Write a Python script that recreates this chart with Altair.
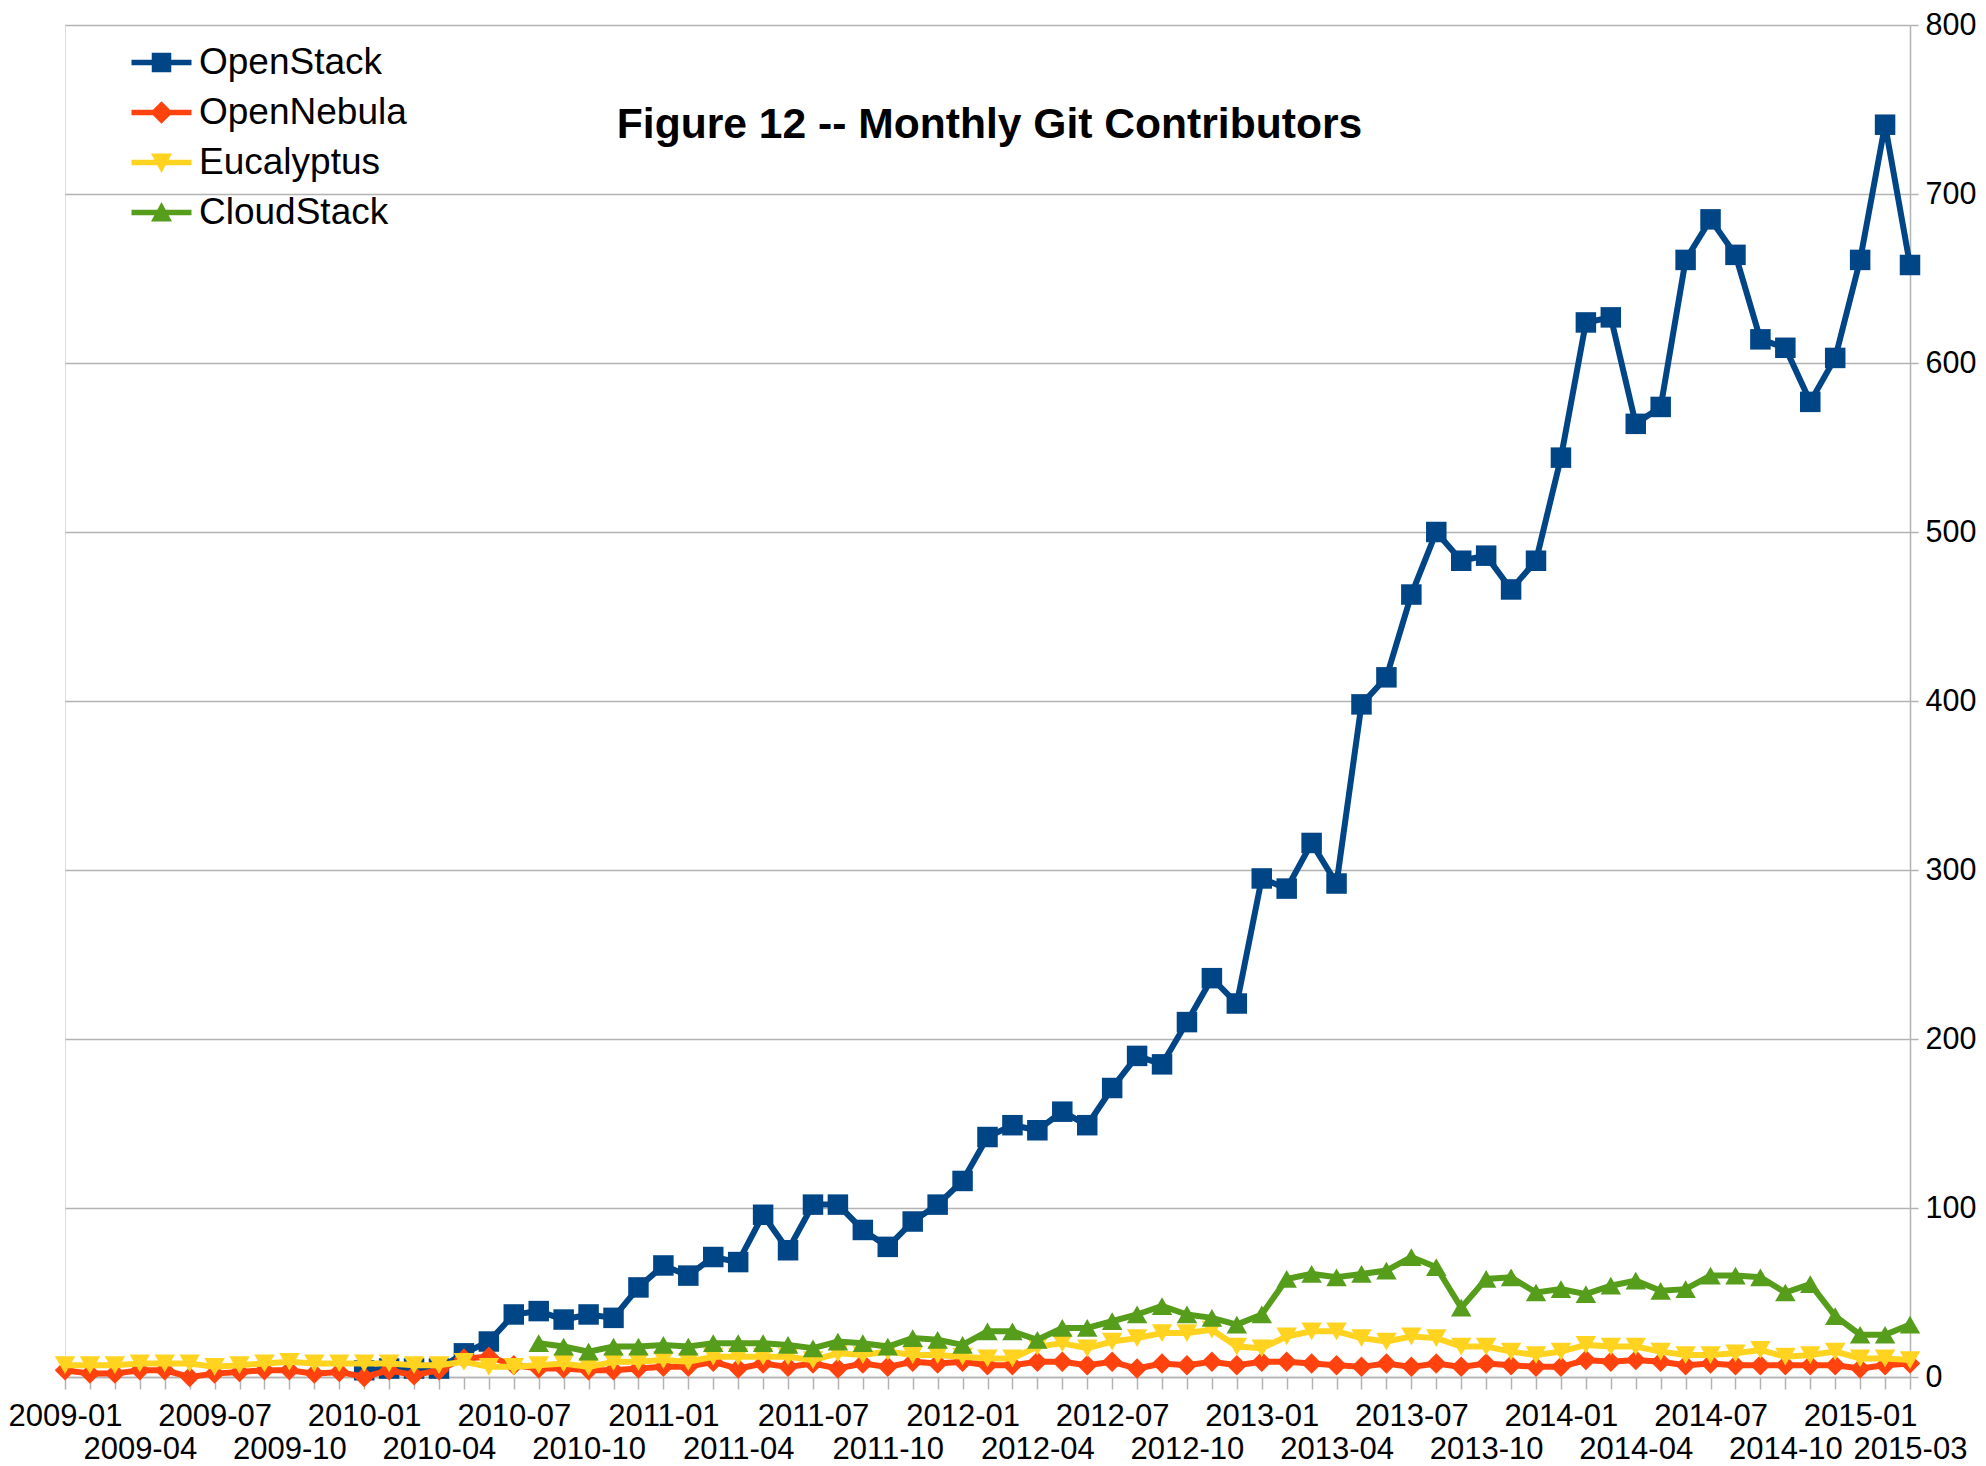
import json
import altair as alt
import pandas as pd

# ---- categories -------------------------------------------------------
months = [f"{y}-{m:02d}" for y in range(2009, 2016) for m in range(1, 13)][:75]

row1_labels = ["2009-01", "2009-07", "2010-01", "2010-07", "2011-01", "2011-07",
               "2012-01", "2012-07", "2013-01", "2013-07", "2014-01", "2014-07", "2015-01"]
row2_labels = ["2009-04", "2009-10", "2010-04", "2010-10", "2011-04", "2011-10",
               "2012-04", "2012-10", "2013-04", "2013-10", "2014-04", "2014-10", "2015-03"]

series_names = ["OpenStack", "OpenNebula", "Eucalyptus", "CloudStack"]
series_colors = ["#004586", "#ff420e", "#ffd320", "#579d1c"]
series_shapes = ["square", "diamond", "triangle-down", "triangle-up"]

# ---- values -----------------------------------------------------------
openstack = [None] * 12 + [
    4, 5, 5, 5, 14, 21, 37, 39, 34, 37, 35, 53,
    66, 60, 71, 68, 96, 75, 102, 102, 87, 77, 92, 102,
    116, 142, 149, 146, 157, 149, 171, 190, 185, 210, 236, 221,
    295, 289, 316, 292, 398, 414, 463, 500, 483, 486, 466, 483,
    544, 624, 627, 564, 574, 661, 685, 664, 614, 609, 577, 603,
    661, 741, 658]

opennebula = [
    4, 2, 2, 4, 4, 0, 2, 3, 4, 4, 2, 3,
    0, 4, 1, 4, 11, 12, 7, 5, 5, 4, 4, 5,
    6, 6, 9, 5, 8, 6, 8, 5, 8, 6, 9, 8,
    9, 7, 7, 9, 9, 7, 9, 5, 8, 7, 9, 7,
    9, 9, 8, 7, 6, 8, 6, 8, 6, 8, 7, 6,
    6, 10, 9, 10, 9, 7, 8, 7, 7, 7, 7, 7,
    5, 7, 8]

eucalyptus = [
    7, 7, 7, 8, 8, 8, 6, 7, 8, 9, 8, 8,
    8, 8, 7, 7, 9, 6, 6, 7, 8, 6, 9, 9,
    10, 9, 12, 12, 12, 12, 10, 14, 13, 15, 13, 13,
    12, 11, 11, 18, 20, 17, 21, 23, 26, 26, 28, 18,
    17, 24, 27, 27, 23, 21, 24, 23, 18, 18, 15, 13,
    15, 19, 18, 18, 15, 13, 13, 14, 16, 12, 13, 15,
    11, 11, 10]

cloudstack = [None] * 19 + [
    20, 18, 15, 18, 18,
    19, 18, 20, 20, 20, 19, 17, 21, 20, 18, 23, 22,
    19, 27, 27, 22, 29, 29, 33, 37, 42, 37, 35, 31,
    37, 58, 61, 59, 61, 63, 71, 65, 41, 58, 59, 50,
    52, 49, 54, 57, 51, 52, 60, 60, 59, 50, 55, 36,
    25, 25, 31]

series_values = [openstack, opennebula, eucalyptus, cloudstack]

rows = []
for name, vals in zip(series_names, series_values):
    for m, v in zip(months, vals):
        if v is not None:
            rows.append({"month": m, "series": name, "value": v})
df = pd.DataFrame(rows)

# ---- styling helpers ----------------------------------------------------
GRID = "#b3b3b3"
FONT = "Liberation Sans"

label_expr = (
    f"indexof({json.dumps(row1_labels)}, datum.value) >= 0 ? datum.value : "
    f"(indexof({json.dumps(row2_labels)}, datum.value) >= 0 ? ['', datum.value] : '')"
)

x_enc = alt.X(
    "month:O",
    scale=alt.Scale(type="point", padding=0, domain=months),
    axis=alt.Axis(
        values=months, labelExpr=label_expr, labelAngle=0, labelOverlap=False,
        labelFlush=False, labelBound=False, labelFont=FONT, labelFontSize=31,
        labelColor="black", labelLimit=0,
        labelPadding=12, labelLineHeight=33, labelBaseline="top",
        tickColor=GRID, tickSize=12, tickWidth=1.5,
        domainColor=GRID, domainWidth=1.5, grid=False, title=None,
    ),
)
y_enc = alt.Y(
    "value:Q",
    scale=alt.Scale(domain=[0, 800], nice=False),
    axis=alt.Axis(
        orient="right", values=list(range(0, 801, 100)), grid=True,
        gridColor=GRID, gridWidth=1.5, tickColor=GRID, tickSize=8, tickWidth=1.5,
        domainColor=GRID, domainWidth=1.5, labelFont=FONT, labelFontSize=30.5,
        labelColor="black", labelPadding=7, labelLimit=0, title=None,
    ),
)
color_scale = alt.Scale(domain=series_names, range=series_colors)

legend = alt.Legend(
    title=None, orient="none", legendX=78, legendY=19, padding=0,
    symbolSize=900, symbolOpacity=1, symbolStrokeWidth=0,
    labelFont=FONT, labelFontSize=37, labelColor="black", labelLimit=0,
    labelOffset=19, rowPadding=12,
)
color_enc = alt.Color("series:N", scale=color_scale, legend=legend)

base = alt.Chart(df)
layers = []
for name, shape in zip(series_names, series_shapes):
    sub = base.transform_filter(alt.datum.series == name)
    layers.append(
        sub.mark_line(strokeWidth=6).encode(x=x_enc, y=y_enc, color=color_enc)
    )
    layers.append(
        sub.mark_point(shape=shape, filled=True, size=420, opacity=1).encode(
            x=x_enc, y=y_enc, color=color_enc,
        )
    )

# legend: line stub + marker symbols
stub = "M-2,-0.19H2V0.19H-2Z "
legend_paths = [
    stub + "M-0.65,-0.65H0.65V0.65H-0.65Z",
    stub + "M0,-0.75L0.75,0L0,0.75L-0.75,0Z",
    stub + "M-0.7,-0.6L0.7,-0.6L0,0.7Z",
    stub + "M0,-0.7L0.7,0.6L-0.7,0.6Z",
]
legend_layer = base.mark_point(filled=True, opacity=0, size=900).encode(
    x=x_enc, y=y_enc,
    color=color_enc,
    shape=alt.Shape(
        "series:N",
        scale=alt.Scale(domain=series_names, range=legend_paths),
        legend=legend,
    ),
)

chart = (
    alt.layer(*layers, legend_layer)
    .properties(
        width=1845, height=1352,
        autosize=alt.AutoSizeParams(type="none"),
        padding={"left": 57, "top": 17, "right": 68, "bottom": 89},
        title=alt.TitleParams(
            "Figure 12 -- Monthly Git Contributors", font=FONT, fontSize=42.6,
            fontWeight="bold", color="black", anchor="middle", dx=2, dy=171,
            offset=0, baseline="alphabetic",
        ),
    )
    .configure_view(stroke=GRID, strokeWidth=1.5)
    .configure(background="white")
)

chart.save("out.html", embed_options={"renderer": "svg", "actions": False})
